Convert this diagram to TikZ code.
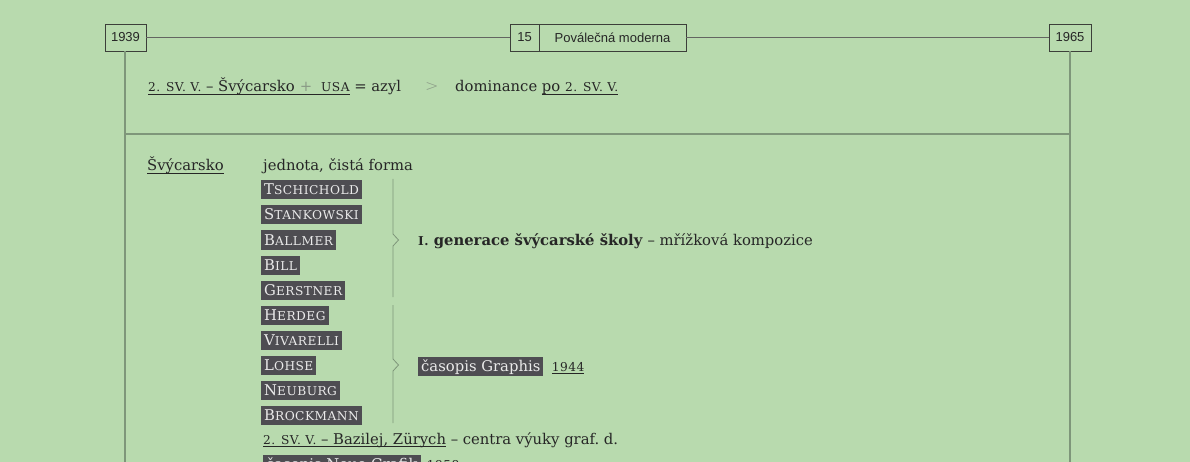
\documentclass[tikz,border=0pt]{standalone}
\usepackage{fontspec}
\setmainfont{DejaVu Serif}
\newfontfamily\hdfont{Liberation Sans}
\newfontfamily\symfont{DejaVu Sans ExtraLight}
\definecolor{bg}{HTML}{B8DAAE}
\definecolor{frame}{HTML}{3C3F3A}
\definecolor{rulec}{HTML}{7E967A}
\definecolor{lite}{HTML}{8A9A86}
\definecolor{tagbg}{HTML}{4E4D52}
\definecolor{tagfg}{HTML}{EAEAEA}
\definecolor{ink}{HTML}{262626}
\newsavebox\ulbox
\newcommand\ulx[1]{\sbox\ulbox{#1}\rlap{\color{ink}\rule[-3.2pt]{\wd\ulbox}{0.8pt}}\usebox\ulbox}
\newcommand\smc[1]{{\addfontfeature{LetterSpace=4}\fontsize{12.2}{12}\selectfont #1}}
\newcommand\fsc[2]{#1\smc{#2}}
\newcommand\bodyfont{\fontsize{14.8}{18}\selectfont}
\tikzset{
  hd/.style={draw=frame, line width=0.9pt, font=\hdfont\fontsize{13}{14}\selectfont, text=ink, minimum height=27pt, inner sep=0pt},
  topline/.style={draw=frame!80, line width=0.6pt},
  vline/.style={draw=rulec, line width=1.2pt},
  sepline/.style={draw=rulec, line width=1.6pt},
  brace/.style={draw=rulec, line width=0.8pt},
  txt/.style={anchor=base west, inner sep=0pt, font=\bodyfont, text=ink},
  tag/.style={anchor=base west, fill=tagbg, text=tagfg, font=\bodyfont, inner xsep=3pt, inner ysep=3pt, text height=11.5pt, text depth=1.5pt},
}
\begin{document}
\begin{tikzpicture}[x=1pt,y=-1pt]
\fill[bg] (0,0) rectangle (1190,462);
\useasboundingbox (0,0) rectangle (1190,462);
\clip (0,0) rectangle (1190,462);
% header
\node[hd, minimum width=41pt] (y1939) at (125.5,37.5) {1939};
\node[hd, minimum width=29pt] (num) at (524.5,37.5) {15};
\node[hd, minimum width=147pt] (title) at (612.5,37.5) {Poválečná moderna};
\node[hd, minimum width=42pt] (y1965) at (1070,37.5) {1965};
\draw[topline] (y1939.east) -- (num.west);
\draw[topline] (title.east) -- (y1965.west);
\coordinate (lb) at (125,470);
\coordinate (rb) at (1070,470);
\draw[vline] (y1939.south -| lb) -- (lb);
\draw[vline] (y1965.south -| rb) -- (rb);
\coordinate (sepL) at (125,134);
\coordinate (sepR) at (1070,134);
\draw[sepline] (sepL) -- (sepR);
% row 1
\node[txt] (r1a) at (148,92) {\ulx{\smc{2. SV. V.} – Švýcarsko\hspace{5pt}{\color{lite}+}\hspace{9pt}\smc{USA}} = azyl};
\node[txt, text=lite] (r1gt) at (425,92) {\symfont\fontsize{16}{16}\selectfont\textgreater};
\node[txt] (r1b) at (455,92) {dominance \ulx{po \smc{2. SV. V.}}};
% section
\node[txt] (sw) at (147,171) {\ulx{Švýcarsko}};
\node[txt] (jed) at (263,171) {jednota, čistá forma};
\node[tag] (n1) at (261,195) {\fsc{T}{SCHICHOLD}};
\node[tag] (n2) at (261,220) {\fsc{S}{TANKOWSKI}};
\node[tag] (n3) at (261,245) {\fsc{B}{ALLMER}};
\node[tag] (n4) at (261,270) {\fsc{B}{ILL}};
\node[tag] (n5) at (261,295) {\fsc{G}{ERSTNER}};
\node[tag] (n6) at (261,320) {\fsc{H}{ERDEG}};
\node[tag] (n7) at (261,345) {\fsc{V}{IVARELLI}};
\node[tag] (n8) at (261,370) {\fsc{L}{OHSE}};
\node[tag] (n9) at (261,395) {\fsc{N}{EUBURG}};
\node[tag] (n10) at (261,420) {\fsc{B}{ROCKMANN}};
% brackets
\draw[brace] (393,179) -- (393,234) -- (398.5,240) -- (393,246) -- (393,297);
\draw[brace] (393,305) -- (393,359) -- (398.5,365) -- (393,371) -- (393,423);
\node[txt] (gen) at (418,246) {\textbf{\smc{I.} generace švýcarské školy} – mřížková kompozice};
\node[tag] (graphis) at (418,371) {časopis Graphis};
\node[txt, anchor=base west] (g44) at ([xshift=8pt]graphis.base east) {\ulx{\smc{1944}}};
\node[txt] (baz) at (263,444) {\ulx{\smc{2. SV. V.} – Bazilej, Zürych} – centra výuky graf.~d.};
\node[tag] (neue) at (263,469) {časopis Neue Grafik};
\node[txt, anchor=base west] (g58) at ([xshift=6pt]neue.base east) {\ulx{\smc{1958}}};
\end{tikzpicture}
\end{document}
